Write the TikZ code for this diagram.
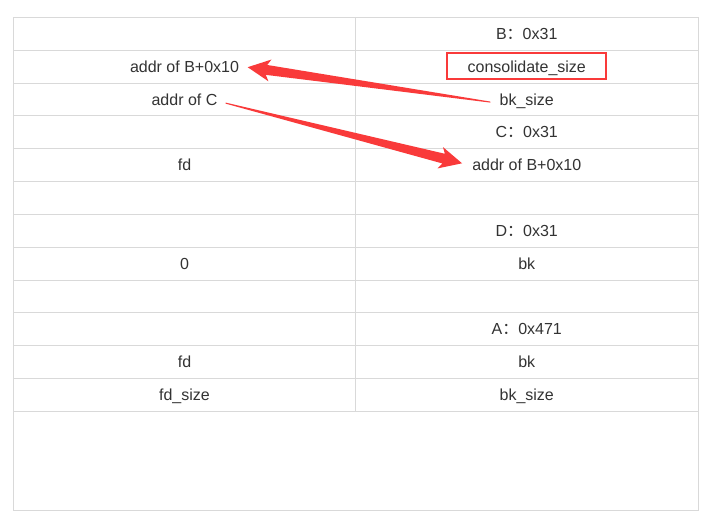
\documentclass[tikz,border=0pt]{standalone}
\usepackage{fontspec}
\setmainfont{Liberation Sans}
\newfontfamily\cjk{Noto Sans CJK SC}
\usepackage{tikz}
\usetikzlibrary{calc}
\definecolor{gridline}{HTML}{D9D9D9}
\definecolor{ink}{HTML}{333333}
\definecolor{redmark}{HTML}{F93A3A}
\newcommand{\fwc}{{\cjk ：}}
\tikzset{cell/.style={text=ink, font=\fontsize{16}{19}\selectfont, inner sep=0pt, anchor=base}}

\begin{document}
\begin{tikzpicture}[x=1pt, y=-1pt]

\useasboundingbox (0,0) rectangle (705,523);
\fill[white] (0,0) rectangle (705,523);

% table lines

\draw[gridline] (13.5,17) rectangle (698,510);
\draw[gridline] (355.5,17) -- (355.5,411);
\draw[gridline] (13.5,49.8) -- (698,49.8);
\draw[gridline] (13.5,82.7) -- (698,82.7);
\draw[gridline] (13.5,115.5) -- (698,115.5);
\draw[gridline] (13.5,148.3) -- (698,148.3);
\draw[gridline] (13.5,181.2) -- (698,181.2);
\draw[gridline] (13.5,214) -- (698,214);
\draw[gridline] (13.5,246.8) -- (698,246.8);
\draw[gridline] (13.5,279.7) -- (698,279.7);
\draw[gridline] (13.5,312.5) -- (698,312.5);
\draw[gridline] (13.5,345.3) -- (698,345.3);
\draw[gridline] (13.5,378.2) -- (698,378.2);
\draw[gridline] (13.5,411) -- (698,411);

% left column

\node[cell] (lB) at (184.5,72.2) {addr of B+0x10};
\node[cell] (lC) at (184.5,105.1) {addr of C};
\node[cell] (lfd) at (184.5,170.8) {fd};
\node[cell] (lzero) at (184.5,269.3) {0};
\node[cell] (lfdA) at (184.5,367.8) {fd};
\node[cell] (lsize) at (184.5,400.6) {fd\_size};

% right column

\node[cell] (rB) at (526.75,39.4) {B\fwc 0x31};
\node[cell] (rcons) at (526.75,72.2) {consolidate\_size};
\node[cell] (rbk) at (526.75,105.1) {bk\_size};
\node[cell] (rC) at (526.75,137.9) {C\fwc 0x31};
\node[cell] (raddr) at (526.75,170.8) {addr of B+0x10};
\node[cell] (rD) at (526.75,236.4) {D\fwc 0x31};
\node[cell] (rbkD) at (526.75,269.3) {bk};
\node[cell] (rA) at (526.75,334.9) {A\fwc 0x471};
\node[cell] (rbkA) at (526.75,367.8) {bk};
\node[cell] (rsize) at (526.75,400.6) {bk\_size};

% red box
\node[draw=redmark, line width=2pt, minimum width=159pt, minimum height=26.5pt, inner sep=0pt] (box) at (526.2,65.9) {};

% arrow ends
\coordinate (t1) at ($(rbk.base west)+(-9,-3)$);
\coordinate (h1) at ($(lB.base east)+(8.5,-5)$);
\coordinate (t2) at ($(lC.base east)+(8,-2)$);
\coordinate (h2) at ($(raddr.base west)+(-10,-7.5)$);

% first arrow
\fill[redmark] ($(t1)!0.5pt!90:(h1)$) -- ($(h1)!19pt!(t1)!5pt!90:(h1)$) -- ($(h1)!22.5pt!(t1)!11pt!90:(h1)$)
  -- (h1) -- ($(h1)!22.5pt!(t1)!11pt!-90:(h1)$) -- ($(h1)!19pt!(t1)!5pt!-90:(h1)$) -- ($(t1)!0.5pt!-90:(h1)$) -- cycle;
% second arrow
\fill[redmark] ($(t2)!0.5pt!90:(h2)$) -- ($(h2)!19pt!(t2)!5pt!90:(h2)$) -- ($(h2)!22.5pt!(t2)!11pt!90:(h2)$)
  -- (h2) -- ($(h2)!22.5pt!(t2)!11pt!-90:(h2)$) -- ($(h2)!19pt!(t2)!5pt!-90:(h2)$) -- ($(t2)!0.5pt!-90:(h2)$) -- cycle;

\end{tikzpicture}
\end{document}
